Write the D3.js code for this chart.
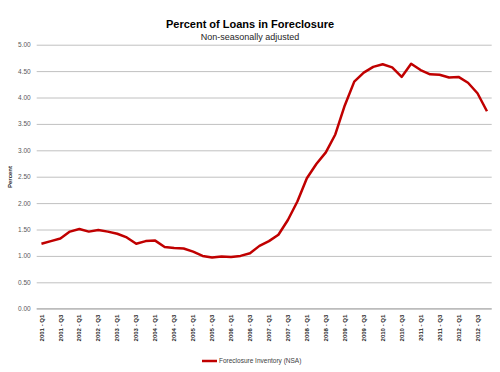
<html>
<head>
<script src="https://d3js.org/d3.v7.min.js"></script>
<style>
    body { margin: 0; background: #fff; }
    text { font-family: "Liberation Sans", Arial, sans-serif; }
    .grid line { stroke: #c0c0c0; }
    .grid text { fill: #595959; font-size: 6.5px; }
    .xaxis text { fill: #262626; font-size: 6px; font-weight: bold; }
</style>
</head>
<body>
<svg width="500" height="372"></svg>
<script>
// quarters shown on the x axis
var quarters = [
  "2001 - Q1","2001 - Q2","2001 - Q3","2001 - Q4",
  "2002 - Q1","2002 - Q2","2002 - Q3","2002 - Q4",
  "2003 - Q1","2003 - Q2","2003 - Q3","2003 - Q4",
  "2004 - Q1","2004 - Q2","2004 - Q3","2004 - Q4",
  "2005 - Q1","2005 - Q2","2005 - Q3","2005 - Q4",
  "2006 - Q1","2006 - Q2","2006 - Q3","2006 - Q4",
  "2007 - Q1","2007 - Q2","2007 - Q3","2007 - Q4",
  "2008 - Q1","2008 - Q2","2008 - Q3","2008 - Q4",
  "2009 - Q1","2009 - Q2","2009 - Q3","2009 - Q4",
  "2010 - Q1","2010 - Q2","2010 - Q3","2010 - Q4",
  "2011 - Q1","2011 - Q2","2011 - Q3","2011 - Q4",
  "2012 - Q1","2012 - Q2","2012 - Q3","2012 - Q4"
];
// foreclosure inventory, percent of loans (NSA)
var inventory = [
  1.23, 1.28, 1.33, 1.46, 1.51, 1.46, 1.49, 1.46,
  1.42, 1.35, 1.23, 1.28, 1.29, 1.17, 1.15, 1.14,
  1.08, 1.00, 0.97, 0.99, 0.98, 1.00, 1.05, 1.19,
  1.28, 1.40, 1.68, 2.03, 2.47, 2.74, 2.96, 3.30,
  3.85, 4.30, 4.47, 4.58, 4.63, 4.57, 4.39, 4.64,
  4.52, 4.44, 4.43, 4.38, 4.39, 4.28, 4.08, 3.74
];
var yTicks = [0, 0.5, 1, 1.5, 2, 2.5, 3, 3.5, 4, 4.5, 5];

function draw() {
var svg = d3.select('svg');
var mLeft = 36.7, mRight = 491.7, mTop = 44.7, mBottom = 308.7;

var x = d3.scaleBand().range([mLeft, mRight]).domain(quarters);
var y = d3.scaleLinear().range([mBottom, mTop]).domain([0, 5]);

// gridlines + y labels
svg.append('g')
    .attr('class', 'grid')
    .attr('transform', 'translate(' + mLeft + ',0)')
    .call(d3.axisLeft(y).tickValues(yTicks).tickFormat(d3.format('.2f'))
        .tickSize(-(mRight - mLeft)).tickPadding(6))
    .call(g => g.select('.domain').remove());

// x axis line and labels
svg.append('line')
    .attr('x1', mLeft).attr('x2', mRight)
    .attr('y1', mBottom).attr('y2', mBottom)
    .attr('stroke', '#b0b0b0');

svg.append('g')
    .attr('class', 'xaxis')
    .attr('transform', 'translate(0,' + mBottom + ')')
    .call(d3.axisBottom(x).tickValues(quarters.filter((d, i) => i % 2 == 0)).tickSize(0))
    .call(g => g.select('.domain').remove())
    .selectAll('text')
    .attr('transform', 'rotate(-90)')
    .attr('x', -6)
    .attr('y', 0)
    .attr('dy', '.35em')
    .style('text-anchor', 'end');

// the line
var line = d3.line()
    .x(function(d, i) { return x(quarters[i]) + x.bandwidth() / 2; })
    .y(function(d) { return y(d); });

svg.append('path')
    .datum(inventory)
    .attr('d', line)
    .attr('fill', 'none')
    .attr('stroke', '#c00000')
    .attr('stroke-width', 2.5)
    .attr('stroke-linejoin', 'round');

// titles
svg.append('text')
    .attr('x', 250).attr('y', 28)
    .attr('text-anchor', 'middle')
    .style('font-size', '11px').style('font-weight', 'bold')
    .text('Percent of Loans in Foreclosure');
svg.append('text')
    .attr('x', 250).attr('y', 40)
    .attr('text-anchor', 'middle')
    .style('font-size', '9px').attr('fill', '#262626')
    .text('Non-seasonally adjusted');

svg.append('text')
    .attr('transform', 'translate(12,177) rotate(-90)')
    .attr('text-anchor', 'middle')
    .style('font-size', '6px').style('font-weight', 'bold')
    .attr('fill', '#262626')
    .text('Percent');

// legend
svg.append('line')
    .attr('x1', 202).attr('x2', 217)
    .attr('y1', 361).attr('y2', 361)
    .attr('stroke', '#c00000').attr('stroke-width', 2.5);
svg.append('text')
    .attr('x', 219).attr('y', 363)
    .style('font-size', '6.5px').attr('fill', '#404040')
    .text('Foreclosure Inventory (NSA)');
}
draw();
</script>
</body>
</html>
